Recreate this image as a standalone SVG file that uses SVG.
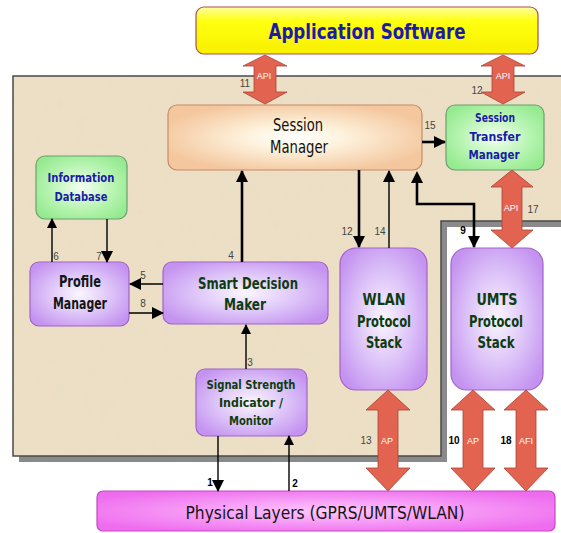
<svg xmlns="http://www.w3.org/2000/svg" width="561" height="533" viewBox="0 0 561 533">
<defs>
<filter id="tex" x="0" y="0" width="100%" height="100%">
<feTurbulence type="fractalNoise" baseFrequency="0.06" numOctaves="4" seed="4" result="n"/>
<feColorMatrix in="n" type="matrix" values="0 0 0 0 0.80  0 0 0 0 0.72  0 0 0 0 0.56  0 0 0 -2.2 1.25" result="c"/>
<feComposite in="c" in2="SourceGraphic" operator="in"/>
</filter>
<radialGradient id="gPurple" cx="50%" cy="50%" r="60%">
<stop offset="0" stop-color="#fbf6ff"/><stop offset="0.55" stop-color="#dcc2f8"/><stop offset="1" stop-color="#c493f0"/>
</radialGradient>
<radialGradient id="gGreen" cx="50%" cy="50%" r="60%">
<stop offset="0" stop-color="#f4fff2"/><stop offset="0.6" stop-color="#b6f4b0"/><stop offset="1" stop-color="#95ea90"/>
</radialGradient>
<radialGradient id="gPeach" cx="50%" cy="50%" r="55%">
<stop offset="0" stop-color="#ffffff"/><stop offset="0.35" stop-color="#fdf2dc"/><stop offset="1" stop-color="#f4c79e"/>
</radialGradient>
<linearGradient id="gYellow" x1="0" y1="0" x2="0" y2="1">
<stop offset="0" stop-color="#ffffa0"/><stop offset="0.3" stop-color="#ffff10"/><stop offset="1" stop-color="#f8f000"/>
</linearGradient>
<radialGradient id="gPink" cx="50%" cy="50%" r="60%">
<stop offset="0" stop-color="#ffc8ff"/><stop offset="0.6" stop-color="#f590f5"/><stop offset="1" stop-color="#ee6cee"/>
</radialGradient>
<marker id="ah" markerUnits="userSpaceOnUse" markerWidth="12" markerHeight="12" refX="11" refY="6" orient="auto">
<path d="M0,0 L12,6 L0,12 Z" fill="#000"/>
</marker>
<marker id="ahs" markerUnits="userSpaceOnUse" markerWidth="10" markerHeight="10" refX="9" refY="5" orient="auto">
<path d="M0,0 L10,5 L0,10 Z" fill="#000"/>
</marker>
<style>
.box{stroke-width:1.2}
.pur{fill:url(#gPurple);stroke:#a064c8}
.grn{fill:url(#gGreen);stroke:#6f9e6f}
.t{font-family:"DejaVu Sans Condensed","DejaVu Sans",sans-serif;text-anchor:middle}
.b{font-weight:bold}
.blue{fill:#1b1ba8}
.dg{fill:#0e3c10}
.num{font-family:"Liberation Sans",Arial,sans-serif;font-size:10px;text-anchor:middle;fill:#444}
.nb{font-weight:bold;fill:#000}
.wl{font-family:"Liberation Sans",Arial,sans-serif;font-size:9px;text-anchor:middle;fill:#fff}
.red{fill:#e2634f;stroke:#a84434;stroke-width:0.8}
.thick{stroke:#000;stroke-width:2.6;fill:none}
.thin{stroke:#000;stroke-width:1.4;fill:none}
</style>
</defs>
<rect width="561" height="533" fill="#fff"/>
<g id="panel">
<path d="M19,82 H567 V227 H447 V462 H19 Z" fill="#8a8a8a"/>
<path d="M13,76 H567 V221 H441 V456 H13 Z" fill="#ecdfc5"/>
<path d="M13,76 H567 V221 H441 V456 H13 Z" fill="#fff" filter="url(#tex)" opacity="0.45"/>
<path d="M13,76 H567 V221 H441 V456 H13 Z" fill="none" stroke="#4a4a4a" stroke-width="1.5"/>
</g>
<g id="app">
<rect x="196" y="7" width="342" height="47" rx="8" fill="url(#gYellow)" stroke="#a85050" stroke-width="1.2"/>
<text class="t b blue" x="367" y="39" font-size="21" textLength="197" lengthAdjust="spacingAndGlyphs">Application Software</text>
</g>
<g id="session-manager">
<rect x="168" y="105" width="254" height="65" rx="9" fill="url(#gPeach)" stroke="#c88a6a" stroke-width="1.2"/>
<text class="t" x="298" y="131" font-size="17" fill="#111" textLength="50" lengthAdjust="spacingAndGlyphs">Session</text>
<text class="t" x="299" y="153" font-size="17" fill="#111" textLength="58" lengthAdjust="spacingAndGlyphs">Manager</text>
</g>
<g id="session-transfer-manager">
<rect class="box grn" x="446" y="105" width="98" height="65" rx="9"/>
<text class="t b blue" x="495" y="122" font-size="12" textLength="40" lengthAdjust="spacingAndGlyphs">Session</text>
<text class="t b blue" x="495" y="141" font-size="12" textLength="51" lengthAdjust="spacingAndGlyphs">Transfer</text>
<text class="t b blue" x="494" y="159" font-size="12" textLength="51" lengthAdjust="spacingAndGlyphs">Manager</text>
</g>
<g id="information-database">
<rect class="box grn" x="36" y="156" width="91" height="63" rx="9"/>
<text class="t b blue" x="81" y="182" font-size="12" textLength="67" lengthAdjust="spacingAndGlyphs">Information</text>
<text class="t b blue" x="81" y="201" font-size="12" textLength="53" lengthAdjust="spacingAndGlyphs">Database</text>
</g>
<g id="profile-manager">
<rect class="box pur" x="30" y="262" width="99" height="64" rx="9"/>
<text class="t b" x="80" y="287" font-size="15" fill="#151515" textLength="42" lengthAdjust="spacingAndGlyphs">Profile</text>
<text class="t b" x="80" y="309" font-size="15" fill="#151515" textLength="54" lengthAdjust="spacingAndGlyphs">Manager</text>
</g>
<g id="smart-decision-maker">
<rect class="box pur" x="163" y="262" width="165" height="62" rx="9"/>
<text class="t b dg" x="248" y="289" font-size="15" textLength="100" lengthAdjust="spacingAndGlyphs">Smart Decision</text>
<text class="t b dg" x="245" y="310" font-size="15" textLength="42" lengthAdjust="spacingAndGlyphs">Maker</text>
</g>
<g id="wlan-stack">
<rect class="box pur" x="340" y="248" width="87" height="142" rx="16"/>
<text class="t b dg" x="384" y="305" font-size="15" textLength="43" lengthAdjust="spacingAndGlyphs">WLAN</text>
<text class="t b dg" x="384" y="327" font-size="15" textLength="54" lengthAdjust="spacingAndGlyphs">Protocol</text>
<text class="t b dg" x="384" y="348" font-size="15" textLength="36" lengthAdjust="spacingAndGlyphs">Stack</text>
</g>
<g id="umts-stack">
<rect class="box pur" x="451" y="248" width="92" height="142" rx="16"/>
<text class="t b dg" x="497" y="305" font-size="15" textLength="41" lengthAdjust="spacingAndGlyphs">UMTS</text>
<text class="t b dg" x="496" y="327" font-size="15" textLength="54" lengthAdjust="spacingAndGlyphs">Protocol</text>
<text class="t b dg" x="496" y="348" font-size="15" textLength="37" lengthAdjust="spacingAndGlyphs">Stack</text>
</g>
<g id="signal-strength-monitor">
<rect class="box pur" x="196" y="369" width="111" height="67" rx="9"/>
<text class="t b dg" x="251" y="389" font-size="12" textLength="89" lengthAdjust="spacingAndGlyphs">Signal Strength</text>
<text class="t b dg" x="251" y="407" font-size="12" textLength="64" lengthAdjust="spacingAndGlyphs">Indicator /</text>
<text class="t b dg" x="251" y="425" font-size="12" textLength="44" lengthAdjust="spacingAndGlyphs">Monitor</text>
</g>
<g id="physical-layers">
<rect x="97" y="491" width="458" height="40" rx="6" fill="url(#gPink)" stroke="#c548c5" stroke-width="1.2"/>
<text class="t" x="325" y="519" font-size="18" fill="#151515" textLength="279" lengthAdjust="spacingAndGlyphs">Physical Layers (GPRS/UMTS/WLAN)</text>
</g>
<g id="connectors">
<path class="red" d="M265,55 L287,66 L276,66 L276,92 L287,92 L265,104 L243,92 L254,92 L254,66 L243,66 Z"/>
<path class="red" d="M503,55 L525,66 L514,66 L514,92 L525,92 L503,104 L481,92 L492,92 L492,66 L481,66 Z"/>
<path class="red" d="M512,170 L533,187 L522,187 L522,230 L533,230 L512,248 L491,230 L502,230 L502,187 L491,187 Z"/>
<path class="red" d="M388,390 L410,410 L398,410 L398,468 L410,468 L388,491 L366,468 L378,468 L378,410 L366,410 Z"/>
<path class="red" d="M473,390 L495,410 L483,410 L483,468 L495,468 L473,491 L451,468 L463,468 L463,410 L451,410 Z"/>
<path class="red" d="M526,390 L548,410 L536,410 L536,468 L548,468 L526,491 L504,468 L516,468 L516,410 L504,410 Z"/>
<text class="wl" x="264" y="79">API</text>
<text class="wl" x="503" y="79">API</text>
<text class="wl" x="511" y="211">API</text>
<text class="wl" x="387" y="444">AP</text>
<text class="wl" x="473" y="444">AP</text>
<text class="wl" x="526" y="444">AFI</text>
<line class="thick" x1="422" y1="142" x2="445" y2="142" marker-end="url(#ah)"/>
<line class="thick" x1="242" y1="262" x2="242" y2="171" marker-end="url(#ah)"/>
<line class="thick" x1="359" y1="170" x2="359" y2="247" marker-end="url(#ah)"/>
<line class="thin" x1="389" y1="248" x2="389" y2="171" marker-end="url(#ah)"/>
<path class="thick" d="M417,183 V204 H474 V247" marker-end="url(#ah)"/>
<path d="M411,183 L417,171 L423,183 Z" fill="#000"/>
<line class="thin" x1="52" y1="262" x2="52" y2="219" marker-end="url(#ahs)"/>
<line class="thin" x1="107" y1="219" x2="107" y2="262" marker-end="url(#ah)"/>
<line class="thin" x1="163" y1="284" x2="130" y2="284" marker-end="url(#ah)"/>
<line class="thin" x1="129" y1="313" x2="163" y2="313" marker-end="url(#ah)"/>
<line class="thin" x1="246" y1="369" x2="246" y2="325" marker-end="url(#ahs)"/>
<line class="thin" x1="218" y1="436" x2="218" y2="491" marker-end="url(#ah)"/>
<line class="thin" x1="289" y1="491" x2="289" y2="436" marker-end="url(#ahs)"/>
<text class="num" x="245" y="87">11</text>
<text class="num" x="477" y="94">12</text>
<text class="num" x="430" y="129">15</text>
<text class="num" x="533" y="213">17</text>
<text class="num" x="231" y="259">4</text>
<text class="num" x="347" y="235">12</text>
<text class="num" x="380" y="235" fill="#888">14</text>
<text class="num nb" x="463" y="234">9</text>
<text class="num" x="56" y="260">6</text>
<text class="num" x="99" y="260">7</text>
<text class="num" x="143" y="279">5</text>
<text class="num" x="143" y="307">8</text>
<text class="num" x="250" y="366">3</text>
<text class="num nb" x="210" y="486">1</text>
<text class="num nb" x="295" y="487">2</text>
<text class="num" x="366" y="444">13</text>
<text class="num nb" x="454" y="444">10</text>
<text class="num nb" x="506" y="444">18</text>
</g>
</svg>
